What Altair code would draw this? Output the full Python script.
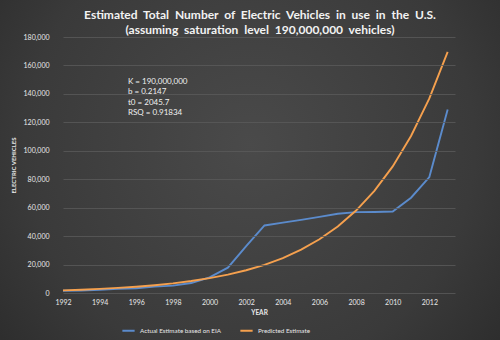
import altair as alt
import pandas as pd

years = list(range(1992, 2014))
actual = [1600, 1700, 2200, 2900, 3300, 4500, 5200, 7000, 11000, 17800, 33000, 47500,
          49500, 51400, 53500, 55700, 56900, 57000, 57300, 67000, 81500, 129000]
predicted = [1870, 2320, 2880, 3570, 4420, 5480, 6790, 8410, 10420, 12910, 16000, 19830,
             24580, 30470, 37760, 46790, 57990, 71860, 89030, 110400, 136800, 169600]
series_names = ["Actual Estimate based on EIA", "Predicted Estimate"]
series_colors = ["#5b8bcc", "#f5a04e"]
x_ticks = list(range(1992, 2013, 2))
y_ticks = list(range(0, 180001, 20000))
note_lines = ["K = 190,000,000", "b = 0.2147", "t0 = 2045.7", "RSQ = 0.91834"]
title_lines = ["Estimated\u00a0 Total\u00a0 Number\u00a0 of\u00a0 Electric\u00a0 Vehicles\u00a0 in\u00a0 use\u00a0 in\u00a0 the\u00a0 U.S.",
               "(assuming\u00a0 saturation\u00a0 level\u00a0 190,000,000\u00a0 vehicles)"]

rows = []
for y, a, p in zip(years, actual, predicted):
    rows.append({"year": y, "value": a, "series": series_names[0]})
    rows.append({"year": y, "value": p, "series": series_names[1]})
df = pd.DataFrame(rows)

FONT = "Lato"
TXT = "#e8e8e8"

bg = alt.Chart(pd.DataFrame({"a": [0]})).mark_rect(
    color=alt.Gradient(
        gradient="radial",
        stops=[alt.GradientStop(color="#4a4a4a", offset=0),
               alt.GradientStop(color="#3a3a3a", offset=0.6),
               alt.GradientStop(color="#262626", offset=1)],
        x1=0.5, y1=0.45, r1=0, x2=0.5, y2=0.45, r2=0.75,
    )
).encode(x=alt.value(-63), x2=alt.value(437), y=alt.value(-37), y2=alt.value(303))

lines = alt.Chart(df).mark_line(strokeWidth=1.9).encode(
    x=alt.X("year:Q", scale=alt.Scale(domain=[1992, 2013.4], nice=False),
            axis=alt.Axis(values=x_ticks, format="d", title="YEAR", grid=False,
                          domain=False, ticks=False, labelFontSize=7, labelColor=TXT,
                          labelFont=FONT, labelPadding=5, titleFont=FONT,
                          titleFontSize=6.5, titleFontWeight="bold", titleColor=TXT,
                          titlePadding=4, labelFlush=False, zindex=1)),
    y=alt.Y("value:Q", scale=alt.Scale(domain=[0, 180000], nice=False),
            axis=alt.Axis(values=y_ticks, format=",d", title="ELECTRIC VEHICLES",
                          grid=True, gridColor="#5a5a5a", gridWidth=0.8,
                          domain=False, ticks=False, labelFontSize=7, labelColor=TXT,
                          labelFont=FONT, labelPadding=14, titleFont=FONT,
                          titleFontSize=6, titleFontWeight="bold", titleColor=TXT,
                          titlePadding=7, zindex=1)),
    color=alt.Color("series:N", scale=alt.Scale(domain=series_names, range=series_colors),
                    legend=alt.Legend(title=None, orient="none", legendX=58, legendY=286,
                                      direction="horizontal", symbolType="stroke",
                                      symbolStrokeWidth=2, symbolSize=150,
                                      labelFont=FONT, labelFontSize=6.3, labelColor=TXT,
                                      columnPadding=14)),
)

note = alt.Chart(pd.DataFrame({"t": ["\n".join(note_lines)]})).mark_text(
    align="left", baseline="top", font=FONT, fontSize=8, color="#f0f0f0",
    lineBreak="\n", lineHeight=10.3,
).encode(x=alt.value(65), y=alt.value(41), text="t:N")

title = alt.Chart(pd.DataFrame({"t": ["\n".join(title_lines)]})).mark_text(
    align="center", baseline="top", font=FONT, fontSize=12, fontWeight="bold",
    color="#f2f2f2", lineBreak="\n", lineHeight=15,
).encode(x=alt.value(197), y=alt.value(-27), text="t:N")

chart = alt.layer(bg, lines, note, title).properties(
    width=392, height=256,
    background="#2c2c2c",
    padding={"left": 63, "top": 37, "right": 45, "bottom": 47},
    autosize=alt.AutoSizeParams(type="none"),
).configure_view(stroke=None)

chart.save("out.html", embed_options={"renderer": "svg", "actions": False})
